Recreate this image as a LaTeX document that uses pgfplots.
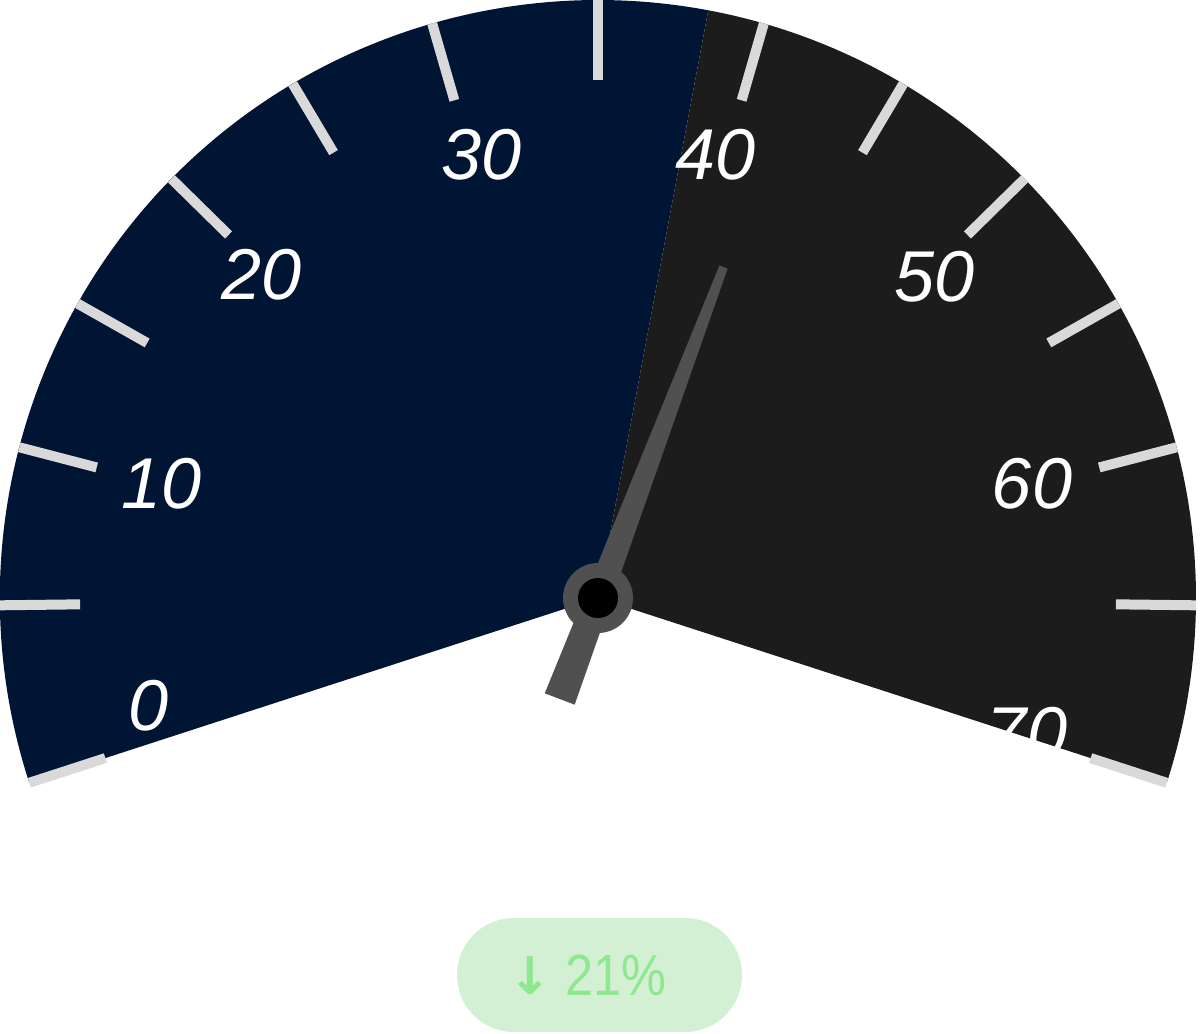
\documentclass[border=0pt]{standalone}
\usepackage{pgfplots}
\pgfplotsset{compat=1.18}
\usepackage{fontspec}
\setmainfont{Liberation Sans}
\newfontfamily\pillfont{Liberation Sans}[FakeStretch=0.87]
\newfontfamily\arrowfont{DejaVu Sans}
\definecolor{navy}{HTML}{001433}
\definecolor{dgray}{HTML}{1C1C1C}
\definecolor{tickc}{HTML}{D9D9D9}
\definecolor{needlec}{HTML}{505050}
\definecolor{pillbg}{HTML}{D4F0D4}
\definecolor{pilltx}{HTML}{8FE88F}
% gauge data
\def\gaugevalue{38.3}
\def\needlevalue{41.6}
% value -> angle, interpolated between the tick angles 35 (90 deg), 40 (73.9 deg), 45 (59.3 deg)
\pgfmathsetmacro\va{90-(\gaugevalue-35)*3.22}
\pgfmathsetmacro\na{73.9-(\needlevalue-40)*2.92}
\begin{document}
\begin{tikzpicture}
\begin{axis}[scale only axis, width=300bp, height=258.5bp,
  xmin=0, xmax=1200, ymin=0, ymax=1034, y dir=reverse,
  hide axis, clip=false]
% sectors
\fill[navy] (axis cs:598,598) -- ++(198:149.5bp) arc[start angle=198, end angle=\va, radius=149.5bp] -- cycle;
\fill[dgray] (axis cs:598,598) -- ++(\va:149.5bp) arc[start angle=\va, end angle=-18, radius=149.5bp] -- cycle;
% ticks at 0,5,...,70
\pgfplotsinvokeforeach{198,180.7,165.4,150.5,135.5,120.7,106.1,90,73.9,59.3,44.5,29.5,14.6,-0.7,-18}{
  \draw[tickc, line width=2.5bp] (axis cs:598,598) ++(#1:129.5bp) -- ++(#1:20bp);
}
% labels
\begin{scope}[every node/.style={white, font=\fontsize{18bp}{20bp}\selectfont\itshape, inner sep=0pt}]
\node at (axis cs:149,706) {0};
\node at (axis cs:162,484) {10};
\node at (axis cs:262,275) {20};
\node at (axis cs:482,155) {30};
\node at (axis cs:716,155) {40};
\node at (axis cs:935,277) {50};
\node at (axis cs:1032,484) {60};
\node at (axis cs:1027,733) {70};
\end{scope}
% needle
\begin{scope}[shift={(axis cs:598,598)}, rotate=\na]
\fill[needlec] (-27bp,-4bp) -- (88.5bp,-1.1bp) -- (88.5bp,1.1bp) -- (-27bp,4bp) -- cycle;
\end{scope}
\fill[needlec] (axis cs:598,598) circle[radius=8.75bp];
\fill[black] (axis cs:598,598) circle[radius=5bp];
% delta pill
\fill[pillbg, rounded corners=14.2bp] (axis cs:457,918) rectangle (axis cs:742,1032);
\node[pilltx, font=\fontsize{13bp}{15bp}\arrowfont\bfseries, inner sep=0pt] at (axis cs:530,976) {↓};
\node[pilltx, font=\fontsize{14.5bp}{16bp}\pillfont, inner sep=0pt] at (axis cs:615.5,975) {21\%};
\end{axis}
\pgfresetboundingbox
\useasboundingbox (current axis.south west) rectangle (current axis.north east);
\end{tikzpicture}
\end{document}
